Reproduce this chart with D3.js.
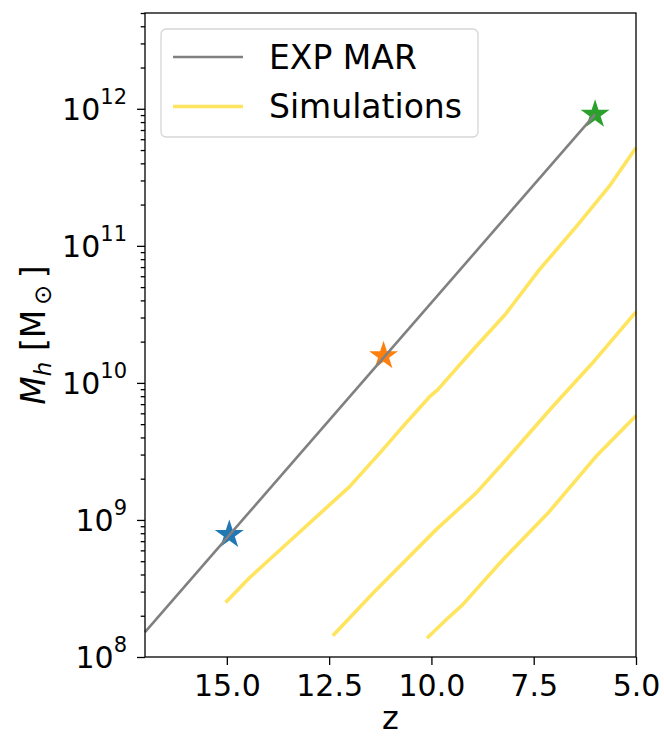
<!DOCTYPE html>
<html>
<head>
<meta charset="utf-8">
<script src="https://cdn.jsdelivr.net/npm/d3@7"></script>
<style>
    body { margin: 0; background: #fff; }
    #chart { width: 664px; height: 737px; }
    text { font-family: "DejaVu Sans", sans-serif; fill: #000; }
</style>
</head>
<body>
<div id="chart"></div>
<script>
// values
const marZ = [17, 6.0];
const marMass = [1.52e8, 9.1e11];

const starZ = [14.94, 11.17, 6.0];
const starMass = [7.8e8, 1.57e10, 9.1e11];
const starColors = ["#1f77b4", "#ff7f0e", "#2ca02c"];

const sim1Z = [15.03, 14.44, 13.5, 12.0, 11.23, 10.70, 10.05, 9.85, 8.95, 8.18, 7.37, 6.47, 5.66, 5.0];
const sim1Mass = [2.5e8, 3.8e8, 6.85e8, 1.75e9, 3.15e9, 4.8e9, 7.9e9, 8.9e9, 1.79e10, 3.2e10, 6.65e10, 1.37e11, 2.7e11, 5.2e11];

const sim2Z = [12.41, 11.43, 9.885, 8.91, 8.18, 7.04, 6.07, 5.0];
const sim2Mass = [1.43e8, 2.92e8, 8.5e8, 1.57e9, 2.74e9, 6.7e9, 1.39e10, 3.3e10];

const sim3Z = [10.11, 9.64, 9.24, 8.26, 7.12, 5.98, 5.0];
const sim3Mass = [1.37e8, 1.87e8, 2.4e8, 5.1e8, 1.15e9, 2.9e9, 5.75e9];

const xTicks = [15, 12.5, 10, 7.5, 5];
const xTickLabels = ["15.0", "12.5", "10.0", "7.5", "5.0"];
const yMajorTicks = [1e8, 1e9, 1e10, 1e11, 1e12];
const legendLabels = ["EXP MAR", "Simulations"];

const simColor = "#ffe45e";
const marColor = "#808080";

let margin = {top: 13, right: 28, bottom: 80, left: 145};
let width = 664 - margin.left - margin.right;
let height = 737 - margin.top - margin.bottom;

let svg = d3.select("#chart").append("svg")
    .attr("width", 664)
    .attr("height", 737)
    .append("g")
    .attr("transform", `translate(${margin.left}, ${margin.top})`);

// scales
let x = d3.scaleLinear()
    .domain([17, 5])
    .range([0, width]);

let y = d3.scaleLog()
    .domain([1e8, 5e12])
    .range([height, 0]);

let line = d3.line()
    .x(d => x(d[0]))
    .y(d => y(d[1]));

// simulation tracks
[[sim1Z, sim1Mass], [sim2Z, sim2Mass], [sim3Z, sim3Mass]].forEach(s => {
    svg.append("path")
        .datum(d3.zip(s[0], s[1]))
        .attr("d", line)
        .attr("fill", "none")
        .attr("stroke", simColor)
        .attr("stroke-width", 3.6)
        .attr("stroke-linejoin", "round");
});

// stars
svg.selectAll(".star")
    .data(d3.zip(starZ, starMass, starColors))
    .join("path")
    .attr("class", "star")
    .attr("d", d3.symbol().type(d3.symbolStar).size(260))
    .attr("transform", d => `translate(${x(d[0])}, ${y(d[1])})`)
    .attr("fill", d => d[2]);

// exponential MAR line
svg.append("path")
    .datum(d3.zip(marZ, marMass))
    .attr("d", line)
    .attr("fill", "none")
    .attr("stroke", marColor)
    .attr("stroke-width", 2.6);

// axes
let xAxis = d3.axisBottom(x)
    .tickValues(xTicks)
    .tickFormat((d, i) => xTickLabels[i])
    .tickSizeInner(8)
    .tickSizeOuter(0)
    .tickPadding(8);

let xAxisGroup = svg.append("g")
    .attr("transform", `translate(0, ${height})`)
    .call(xAxis);
xAxisGroup.selectAll("text").attr("font-size", 30).attr("dy", "0.76em");

let yAxis = d3.axisLeft(y)
    .tickValues(yMajorTicks)
    .tickFormat(() => "")
    .tickSizeInner(8)
    .tickSizeOuter(0)
    .tickPadding(10);

let yAxisGroup = svg.append("g").call(yAxis);
yAxisGroup.selectAll(".tick text")
    .attr("font-size", 30)
    .attr("dy", "0.36em")
    .each(function(d) {
        let t = d3.select(this);
        t.append("tspan").text("10");
        t.append("tspan")
            .attr("font-size", 21)
            .attr("dy", "-0.78em")
            .text(Math.round(Math.log10(d)));
    });

let minorTicks = y.ticks().filter(d => !yMajorTicks.includes(d));
svg.append("g")
    .call(d3.axisLeft(y).tickValues(minorTicks).tickFormat("").tickSizeInner(4.3).tickSizeOuter(0));

svg.selectAll(".domain").remove();
svg.selectAll(".tick line").attr("stroke", "#000").attr("stroke-width", 1.3);

// frame
svg.append("rect")
    .attr("width", width)
    .attr("height", height)
    .attr("fill", "none")
    .attr("stroke", "#000")
    .attr("stroke-width", 1.3);

// axis labels
svg.append("text")
    .attr("x", width / 2)
    .attr("y", height + 72)
    .attr("text-anchor", "middle")
    .attr("font-size", 32)
    .text("z");

let yLabel = svg.append("text")
    .attr("transform", `translate(-100, ${height / 2}) rotate(-90)`)
    .attr("text-anchor", "middle")
    .attr("font-size", 33);
yLabel.append("tspan").attr("font-style", "italic").text("M");
yLabel.append("tspan").attr("font-style", "italic").attr("font-size", 23).attr("dy", 6).text("h");
yLabel.append("tspan").attr("dy", -6).text(" [M");
yLabel.append("tspan").attr("font-size", 24).attr("dy", 6).text("\u2009\u2299");
yLabel.append("tspan").attr("dy", -6).text("\u2009]");

// legend
let legend = svg.append("g")
    .attr("transform", "translate(16, 16)");

legend.append("rect")
    .attr("width", 317)
    .attr("height", 108)
    .attr("rx", 5)
    .attr("fill", "#fff")
    .attr("fill-opacity", 0.8)
    .attr("stroke", "#d6d6d6")
    .attr("stroke-width", 1.3);

[marColor, simColor].forEach((c, i) => {
    legend.append("line")
        .attr("x1", 12).attr("x2", 82)
        .attr("y1", 28 + i * 49.5).attr("y2", 28 + i * 49.5)
        .attr("stroke", c)
        .attr("stroke-width", i === 0 ? 2.6 : 3.6);
    legend.append("text")
        .attr("x", 108)
        .attr("y", 28 + i * 49.5 + 11.5)
        .attr("font-size", 33)
        .text(legendLabels[i]);
});
</script>
</body>
</html>
